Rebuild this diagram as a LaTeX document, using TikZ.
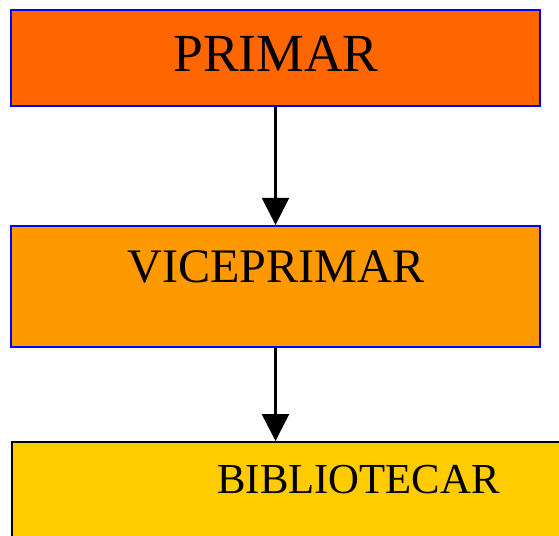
\documentclass[tikz,border=0pt]{standalone}
\usepackage{fontspec}
\setmainfont{Liberation Serif}
\usepackage{tikz}
\usetikzlibrary{arrows.meta}
\definecolor{primarcol}{HTML}{FF6600}
\definecolor{vicecol}{HTML}{FF9900}
\definecolor{bibcol}{HTML}{FFCC00}
\begin{document}
\begin{tikzpicture}[
		box/.style={rectangle, draw=blue, line width=1.3pt, minimum width=10.58cm, inner sep=0pt},
		link/.style={line width=1.4pt, -{Triangle[length=0.54cm, width=0.54cm]}}
	]
		\useasboundingbox (0,0) rectangle (11.18,-10.7);
		\clip (0,0) rectangle (11.18,-10.7);

		\node[box, fill=primarcol, minimum height=1.92cm] (primar) at (5.51,-1.16) {};
		\node[box, fill=vicecol, minimum height=2.42cm] (vice) at (5.51,-5.73) {};
		\node[box, draw=black, fill=bibcol, anchor=north west, minimum width=12cm, minimum height=3cm] (bib) at (0.22,-8.82) {};

		\node[anchor=base, inner sep=0pt] (t1) at (5.52,-1.42) {\fontsize{30.5}{36}\selectfont PRIMAR};
		\node[anchor=base, inner sep=0pt] (t2) at (5.52,-5.64) {\fontsize{27.4}{33}\selectfont VICEPRIMAR};
		\node[anchor=base, inner sep=0pt] (t3) at (7.17,-9.86) {\fontsize{24.3}{29}\selectfont BIBLIOTECAR};

		\draw[link] (primar.south) -- (vice.north);
		\draw[link] (vice.south) -- (bib.north west -| vice.south);
	\end{tikzpicture}
\end{document}
